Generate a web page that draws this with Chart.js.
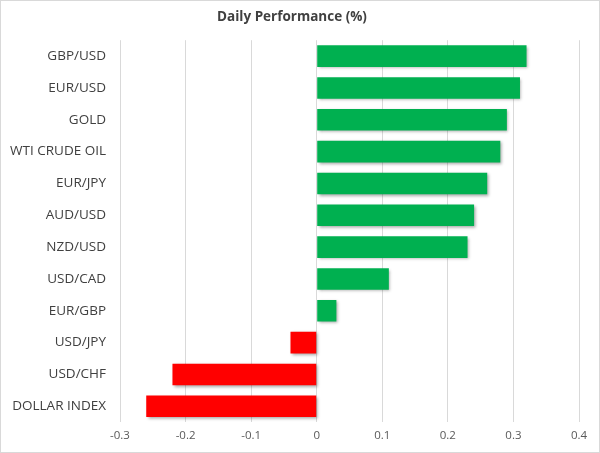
<!DOCTYPE html>
<html>
<head>
<meta charset="utf-8">
<script src="https://cdn.jsdelivr.net/npm/chart.js@4/dist/chart.umd.min.js"></script>
<style>
  html, body { margin: 0; padding: 0; background: #fff; }
  #wrap { width: 598px; height: 451px; border: 1px solid #d9d9d9; }
</style>
</head>
<body>
<div id="wrap"><canvas id="myChart" width="598" height="451"></canvas></div>
<script>
// daily moves, top to bottom
const labels = ['GBP/USD', 'EUR/USD', 'GOLD', 'WTI CRUDE OIL', 'EUR/JPY', 'AUD/USD',
  'NZD/USD', 'USD/CAD', 'EUR/GBP', 'USD/JPY', 'USD/CHF', 'DOLLAR INDEX'];
const values = [0.32, 0.31, 0.29, 0.28, 0.26, 0.24, 0.23, 0.11, 0.03, -0.04, -0.22, -0.26];
const xTicks = [-0.3, -0.2, -0.1, 0, 0.1, 0.2, 0.3, 0.4];

const colors = values.map(v => v >= 0 ? '#00b050' : '#ff0000');

// soft shadow under the bars like the excel original
const barShadow = {
  id: 'barShadow',
  beforeDatasetsDraw(chart) {
    const c = chart.ctx;
    c.save();
    c.shadowColor = 'rgba(0,0,0,0.35)';
    c.shadowBlur = 3;
    c.shadowOffsetX = 1.5;
    c.shadowOffsetY = 1.5;
  },
  afterDatasetsDraw(chart) {
    chart.ctx.restore();
  }
};

var ctx = document.getElementById('myChart');
var mixedChart = new Chart(ctx, {
  type: 'bar',
  data: {
    labels: labels,
    datasets: [{
      data: values,
      backgroundColor: colors,
      borderWidth: 0,
      barPercentage: 0.68,
      categoryPercentage: 1
    }]
  },
  plugins: [barShadow],
  options: {
    indexAxis: 'y',
    responsive: false,
    animation: false,
    layout: { padding: { left: 4, right: 20, top: 0, bottom: 2 } },
    plugins: {
      legend: { display: false },
      tooltip: { enabled: false },
      title: {
        display: true,
        text: 'Daily Performance (%)',
        color: '#404040',
        font: { family: 'Open Sans', size: 13.5, weight: 'bold' },
        padding: { top: 8, bottom: 15 }
      }
    },
    scales: {
      x: {
        min: -0.3,
        max: 0.4,
        afterBuildTicks: axis => { axis.ticks = xTicks.map(v => ({ value: v })); },
        grid: { color: '#d9d9d9', drawTicks: false },
        border: { display: false },
        ticks: {
          color: '#595959',
          font: { family: 'Open Sans', size: 11.5 },
          padding: 7,
          callback: v => String(Math.round(v * 10) / 10)
        }
      },
      y: {
        grid: { display: false },
        border: { display: false },
        afterFit: axis => { axis.width = 115; },
        ticks: {
          color: '#404040',
          font: { family: 'Open Sans', size: 13.5 },
          padding: 6
        }
      }
    }
  }
});
</script>
</body>
</html>
